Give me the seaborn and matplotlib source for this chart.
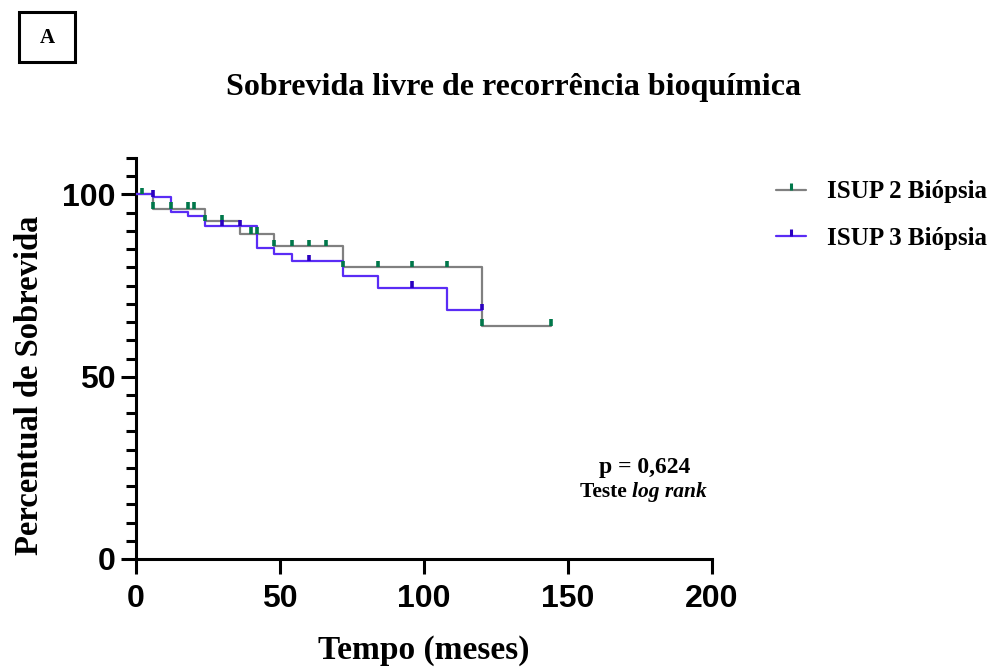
import numpy as np
import pandas as pd
import matplotlib
matplotlib.use("Agg")
import matplotlib.pyplot as plt
from matplotlib.lines import Line2D
from matplotlib.path import Path
from matplotlib.patches import Rectangle
from matplotlib.ticker import MultipleLocator
import seaborn as sns

# ---------------- data ----------------
isup2_time = [0, 6, 24, 36, 48, 72, 120, 144]
isup2_surv = [100, 96.0, 92.7, 89.2, 85.8, 80.0, 64.0, 64.0]
isup2_censor = [2, 6, 12, 18, 20, 24, 30, 40, 42, 48, 54, 60, 66, 72, 84, 96, 108, 120, 144]

isup3_time = [0, 6, 12, 18, 24, 42, 48, 54, 72, 84, 108, 120]
isup3_surv = [100, 99.3, 95.1, 94.2, 91.3, 85.3, 83.6, 81.7, 77.6, 74.4, 68.2, 68.2]
isup3_censor = [6, 30, 36, 60, 96, 120]

group_names = ["ISUP 2 Biópsia", "ISUP 3 Biópsia"]
line_colors = ["#808080", "#5a2cf5"]
tick_colors = ["#00774a", "#2a00c0"]

title = "Sobrevida livre de recorrência bioquímica"
xlabel = "Tempo (meses)"
ylabel = "Percentual de Sobrevida"
x_ticks = [0, 50, 100, 150, 200]
y_ticks = [0, 50, 100]

# ---------------- figure ----------------
sns.set_theme(style="ticks")
plt.rcParams["font.family"] = ["Liberation Serif", "DejaVu Serif"]
plt.rcParams.update({"text.color": "black", "axes.labelcolor": "black",
                     "xtick.color": "black", "ytick.color": "black"})

fig = plt.figure(figsize=(9.92, 6.69), dpi=100)
ax = fig.add_axes([136 / 992, 1 - 559 / 669, 576 / 992, (559 - 158) / 669])

df = pd.concat([
    pd.DataFrame({"t": isup2_time, "s": isup2_surv, "g": group_names[0]}),
    pd.DataFrame({"t": isup3_time, "s": isup3_surv, "g": group_names[1]}),
])

for name, col in zip(group_names, line_colors):
    sub = df[df["g"] == name]
    sns.lineplot(data=sub, x="t", y="s", ax=ax, color=col, lw=1.6,
                 drawstyle="steps-post", estimator=None, legend=False, zorder=3)

def level_at(times, surv, t):
    idx = np.searchsorted(times, t, side="right") - 1
    return np.array(surv)[idx]

tick_h = 1.8
for times, surv, cens, tc in [(isup2_time, isup2_surv, isup2_censor, tick_colors[0]),
                              (isup3_time, isup3_surv, isup3_censor, tick_colors[1])]:
    lv = level_at(np.array(times), surv, np.array(cens))
    ax.vlines(cens, lv, lv + tick_h, colors=tc, lw=2.6, zorder=4)

ax.set_xlim(0, 200)
ax.set_ylim(0, 110)
ax.set_xticks(x_ticks)
ax.set_yticks(y_ticks)
ax.yaxis.set_minor_locator(MultipleLocator(5))
for sp in ["top", "right"]:
    ax.spines[sp].set_visible(False)
for sp in ["left", "bottom"]:
    ax.spines[sp].set_linewidth(2.2)
    ax.spines[sp].set_color("black")
ax.tick_params(axis="both", which="major", length=11, width=2.2, color="black")
ax.tick_params(axis="y", which="major", pad=3.5)
ax.tick_params(axis="x", which="major", pad=7)
ax.tick_params(axis="y", which="minor", length=7, width=2.2, color="black")
for lab in ax.get_xticklabels() + ax.get_yticklabels():
    lab.set_fontfamily("Liberation Sans")
    lab.set_fontweight("bold")
    lab.set_fontsize(23)
    lab.set_color("black")
ax.set_xlabel("")
ax.set_ylabel("")

fig.text(513 / 992, 1 - 88 / 669, title, ha="center", va="center",
         fontsize=23, fontweight="bold")
fig.text(424 / 992, 1 - 650 / 669, xlabel, ha="center", va="center",
         fontsize=24, fontweight="bold")
fig.text(30 / 992, 1 - 385 / 669, ylabel, ha="center", va="center",
         rotation=90, fontsize=23.5, fontweight="bold")

# p value annotation
fig.text(645 / 992, 1 - 468 / 669, "p = 0,624",
         ha="center", va="center", fontsize=17, fontweight="bold")
fig.text(632 / 992, 1 - 492 / 669, "Teste ", ha="right", va="center",
         fontsize=15.5, fontweight="bold")
fig.text(632 / 992, 1 - 492 / 669, "log rank", ha="left", va="center",
         fontsize=15.5, fontweight="bold", fontstyle="italic")

# panel letter box
fig.patches.append(Rectangle((19 / 992, 1 - 62 / 669), 56 / 992, 50 / 669,
                             transform=fig.transFigure, fill=False,
                             edgecolor="black", lw=2.2))
fig.text(47 / 992, 1 - 38 / 669, "A", ha="center", va="center",
         fontsize=15, fontweight="bold")

# legend
cens_marker = Path([(0, 0), (0, 1)], [Path.MOVETO, Path.LINETO])
handles = [Line2D([], [], color=line_colors[i], lw=1.6, marker=cens_marker,
                  markeredgecolor=tick_colors[i], markeredgewidth=2.2, markersize=10)
           for i in range(2)]
fig.legend(handles, group_names, loc="upper left",
           bbox_to_anchor=(753 / 992, 1 - 158 / 669), frameon=False,
           prop={"family": "Liberation Serif", "weight": "bold", "size": 18},
           handlelength=1.2, handletextpad=0.85, labelspacing=0.95, numpoints=1)

fig.savefig("out.png", dpi=100)
